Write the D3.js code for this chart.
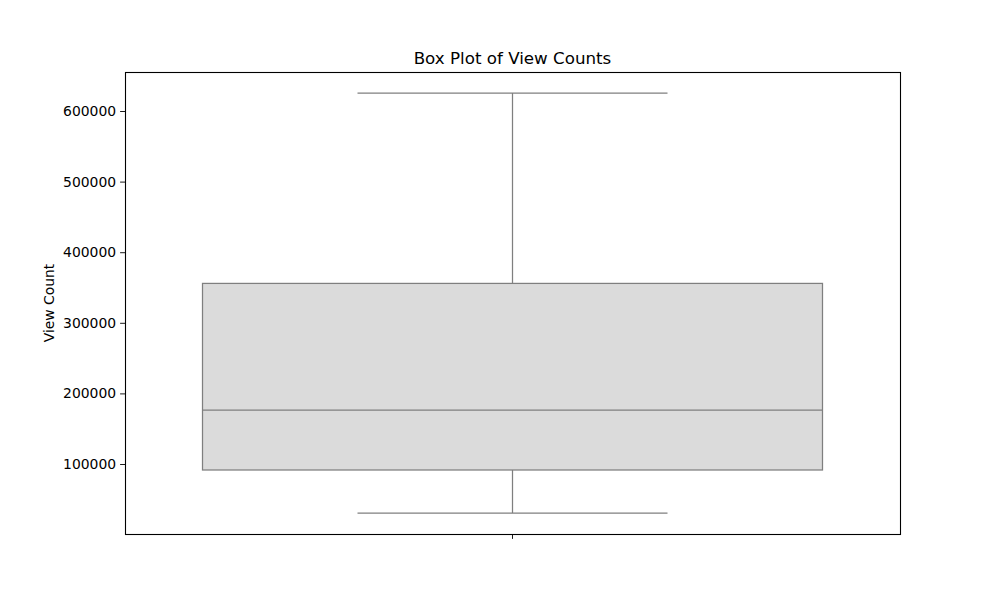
<!DOCTYPE html>
<html>
<head>
<meta charset="utf-8">
<script src="https://cdn.jsdelivr.net/npm/d3@7"></script>
<style>
  body { margin: 0; background: #fff; }
  text { font-family: "DejaVu Sans", sans-serif; fill: #000; }
</style>
</head>
<body>
<div id="chart"></div>
<script>
    // Box plot summary
    const categories = ["View Count"];
    const whiskerLow = [30600];
    const q1 = [91500];
    const median = [176200];
    const q3 = [355800];
    const whiskerHigh = [625500];
    const yTicks = [100000, 200000, 300000, 400000, 500000, 600000];

    const svgWidth = 1000;
    const svgHeight = 600;
    const margin = { top: 72, right: 100, bottom: 66, left: 125 };
    const width = svgWidth - margin.left - margin.right;
    const height = svgHeight - margin.top - margin.bottom;

    const svg = d3.select("#chart")
        .append("svg")
        .attr("width", svgWidth)
        .attr("height", svgHeight);

    const chart = svg.append("g")
        .attr("transform", `translate(${margin.left},${margin.top})`);

    // matplotlib style 5% margins around the data range
    const lo = d3.min(whiskerLow), hi = d3.max(whiskerHigh);
    const pad = (hi - lo) * 0.05;

    const y = d3.scaleLinear()
        .domain([lo - pad, hi + pad])
        .range([height, 0]);

    const x = d3.scaleBand()
        .domain(categories)
        .range([0, width])
        .paddingInner(0)
        .paddingOuter(0);

    const boxW = x.bandwidth() * 0.8;
    const capW = boxW / 2;
    const stroke = "#7f7f7f";

    const stats = categories.map((c, i) => ({
        cat: c, lo: whiskerLow[i], q1: q1[i], med: median[i], q3: q3[i], hi: whiskerHigh[i]
    }));

    const box = chart.selectAll(".box")
        .data(stats)
        .enter()
        .append("g")
        .attr("class", "box")
        .attr("transform", d => `translate(${x(d.cat) + x.bandwidth() / 2},0)`);

    // whiskers
    box.append("line")
        .attr("x1", 0).attr("x2", 0)
        .attr("y1", d => y(d.q3)).attr("y2", d => y(d.hi))
        .attr("stroke", stroke).attr("stroke-width", 1.25);
    box.append("line")
        .attr("x1", 0).attr("x2", 0)
        .attr("y1", d => y(d.q1)).attr("y2", d => y(d.lo))
        .attr("stroke", stroke).attr("stroke-width", 1.25);

    // caps
    box.append("line")
        .attr("x1", -capW / 2).attr("x2", capW / 2)
        .attr("y1", d => y(d.hi)).attr("y2", d => y(d.hi))
        .attr("stroke", stroke).attr("stroke-width", 1.25);
    box.append("line")
        .attr("x1", -capW / 2).attr("x2", capW / 2)
        .attr("y1", d => y(d.lo)).attr("y2", d => y(d.lo))
        .attr("stroke", stroke).attr("stroke-width", 1.25);

    // box
    box.append("rect")
        .attr("x", -boxW / 2)
        .attr("width", boxW)
        .attr("y", d => y(d.q3))
        .attr("height", d => y(d.q1) - y(d.q3))
        .attr("fill", "#dbdbdb")
        .attr("stroke", stroke)
        .attr("stroke-width", 1.25);

    // median
    box.append("line")
        .attr("x1", -boxW / 2).attr("x2", boxW / 2)
        .attr("y1", d => y(d.med)).attr("y2", d => y(d.med))
        .attr("stroke", stroke).attr("stroke-width", 1.25);

    // axes
    const yAxis = chart.append("g")
        .call(d3.axisLeft(y).tickValues(yTicks).tickFormat(d3.format("d")).tickSize(4.9).tickPadding(4))
    yAxis.select(".domain").remove();
    yAxis.selectAll("text").style("font-size", "13.9px");
    yAxis.selectAll("line").attr("stroke", "#000").attr("stroke-width", 0.9);

    const xAxis = chart.append("g")
        .attr("transform", `translate(0,${height})`)
        .call(d3.axisBottom(x).tickFormat("").tickSize(4.9));
    xAxis.select(".domain").remove();
    xAxis.selectAll("line").attr("stroke", "#000").attr("stroke-width", 0.9);

    // frame
    chart.append("rect")
        .attr("x", 0.5).attr("y", 0.5)
        .attr("width", width).attr("height", height)
        .attr("fill", "none")
        .attr("stroke", "#000")
        .attr("stroke-width", 1.1);

    chart.append("text")
        .attr("x", width / 2)
        .attr("y", -8.5)
        .attr("text-anchor", "middle")
        .style("font-size", "16.7px")
        .text("Box Plot of View Counts");

    chart.append("text")
        .attr("transform", `translate(${48.5 + 5 - margin.left},${height / 2}) rotate(-90)`)
        .attr("text-anchor", "middle")
        .style("font-size", "13.9px")
        .text("View Count");
</script>
</body>
</html>
